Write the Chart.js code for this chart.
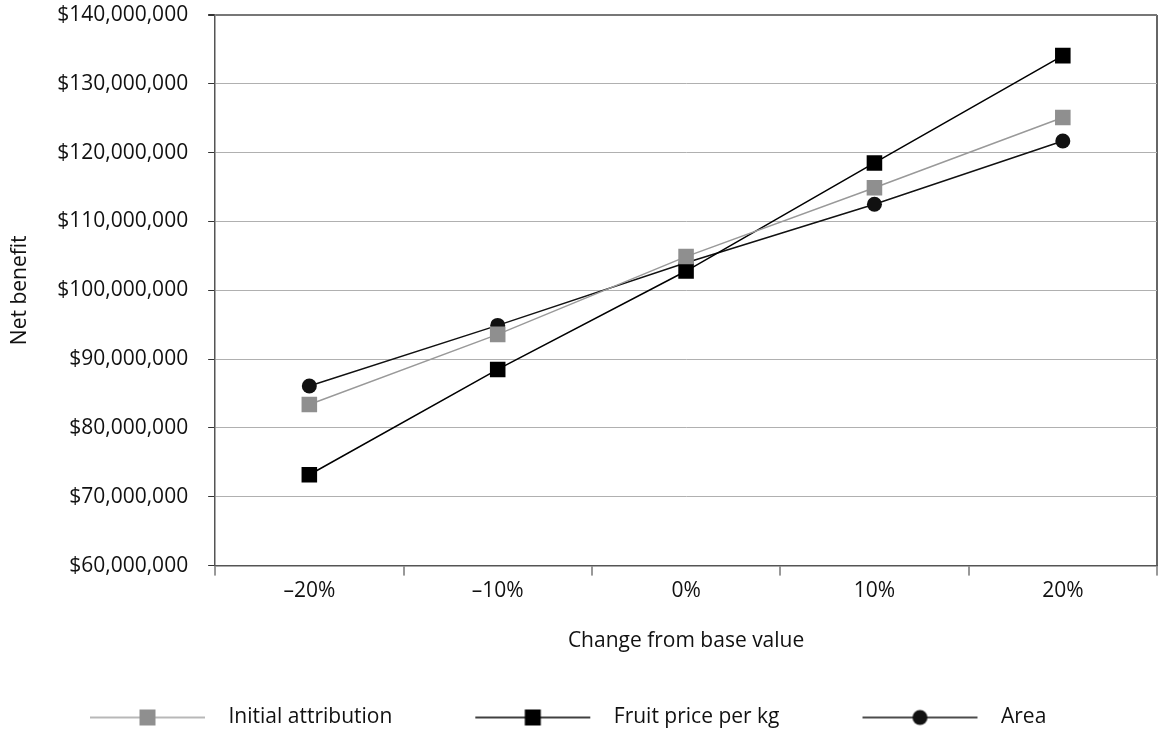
<!DOCTYPE html>
<html>
<head>
<meta charset="utf-8">
<script src="https://cdn.jsdelivr.net/npm/chart.js@4/dist/chart.umd.min.js"></script>
<style>
  html, body { margin: 0; padding: 0; background: #fff; }
  #wrap { width: 1161px; height: 742px; }
</style>
</head>
<body>
<div id="wrap"><canvas id="sensitivityChart" width="1161" height="742"></canvas></div>
<script>
const categories = ["\u201320%", "\u201310%", "0%", "10%", "20%"];
const initialAttribution = [83400000, 93600000, 104900000, 114900000, 125100000];
const fruitPrice = [73200000, 88500000, 102800000, 118500000, 134100000];
const area = [86100000, 94900000, 104000000, 112500000, 121700000];
const seriesNames = ["Initial attribution", "Fruit price per kg", "Area"];
const yMin = 60000000;
const yMax = 140000000;
const yStep = 10000000;

const FONT = "'Open Sans', sans-serif";
const FONT_SIZE = 21;

// legend swatch: blank gap on the left (item spacing), then a long line with the marker in the middle
function legendSwatch(lineColor, fill, shape) {
  const c = document.createElement("canvas");
  c.width = 201;
  c.height = 20;
  const ctx = c.getContext("2d");
  ctx.strokeStyle = lineColor;
  ctx.lineWidth = 1.5;
  ctx.beginPath();
  ctx.moveTo(73, 10);
  ctx.lineTo(188, 10);
  ctx.stroke();
  ctx.fillStyle = fill;
  if (shape === "rect") {
    ctx.fillRect(130.5 - 8, 2, 16, 16);
  } else {
    ctx.beginPath();
    ctx.arc(130.5, 10, 7.5, 0, Math.PI * 2);
    ctx.fill();
  }
  return c;
}

const swatches = [
  legendSwatch("#a0a0a0", "#8f8f8f", "rect"),
  legendSwatch("#000", "#000", "rect"),
  legendSwatch("#111", "#111", "circle")
];

new Chart(document.getElementById("sensitivityChart"), {
  type: "line",
  data: {
    labels: categories,
    datasets: [
      {
        label: seriesNames[0],
        data: initialAttribution,
        borderColor: "#999",
        backgroundColor: "#8f8f8f",
        borderWidth: 1.5,
        pointStyle: "rect",
        pointRadius: 11,
        pointBorderWidth: 0,
        pointBackgroundColor: "#8f8f8f"
      },
      {
        label: seriesNames[1],
        data: fruitPrice,
        borderColor: "#000",
        backgroundColor: "#000",
        borderWidth: 1.5,
        pointStyle: "rect",
        pointRadius: 11,
        pointBorderWidth: 0,
        pointBackgroundColor: "#000"
      },
      {
        label: seriesNames[2],
        data: area,
        borderColor: "#111",
        backgroundColor: "#111",
        borderWidth: 1.5,
        pointStyle: "circle",
        pointRadius: 7.5,
        pointBorderWidth: 0,
        pointBackgroundColor: "#111"
      }
    ]
  },
  options: {
    responsive: false,
    animation: false,
    layout: { autoPadding: false, padding: { left: 7, right: 4, top: 0, bottom: 4 } },
    plugins: {
      tooltip: { enabled: false },
      legend: {
        position: "bottom",
        align: "start",
        labels: {
          usePointStyle: true,
          pointStyleWidth: 201,
          padding: 10,
          color: "#111",
          font: { family: FONT, size: FONT_SIZE },
          generateLabels: chart => {
            const items = Chart.defaults.plugins.legend.labels.generateLabels(chart);
            items.forEach((it, i) => { it.pointStyle = swatches[i]; });
            return items;
          }
        }
      }
    },
    scales: {
      x: {
        offset: true,
        afterFit: s => { s.paddingLeft = 0; s.paddingRight = 0; },
        grid: {
          offset: true,
          drawOnChartArea: true,
          color: ctx => (ctx.tick ? "rgba(0,0,0,0)" : "#666"),
          lineWidth: 2,
          tickColor: "#333",
          tickWidth: 1,
          tickLength: 10
        },
        border: { color: "#555", width: 1.5 },
        ticks: {
          color: "#111",
          padding: 3,
          font: { family: FONT, size: FONT_SIZE }
        },
        title: {
          display: true,
          text: "Change from base value",
          color: "#111",
          font: { family: FONT, size: FONT_SIZE },
          padding: { top: 22, bottom: 43 }
        }
      },
      y: {
        min: yMin,
        max: yMax,
        afterFit: s => { s.paddingTop = 15; },
        grid: {
          color: ctx => (ctx.tick && ctx.tick.value === yMax ? "#777" : "#b0b0b0"),
          lineWidth: ctx => (ctx.tick && ctx.tick.value === yMax ? 2 : 1),
          tickColor: "#333",
          tickLength: 7
        },
        border: { color: "#555", width: 1.5 },
        ticks: {
          stepSize: yStep,
          color: "#111",
          padding: 20,
          font: { family: FONT, size: FONT_SIZE },
          callback: v => "$" + v.toLocaleString("en-US")
        },
        title: {
          display: true,
          text: "Net benefit",
          color: "#111",
          font: { family: FONT, size: FONT_SIZE },
          padding: { top: 0, bottom: 5 }
        }
      }
    }
  }
});
</script>
</body>
</html>
